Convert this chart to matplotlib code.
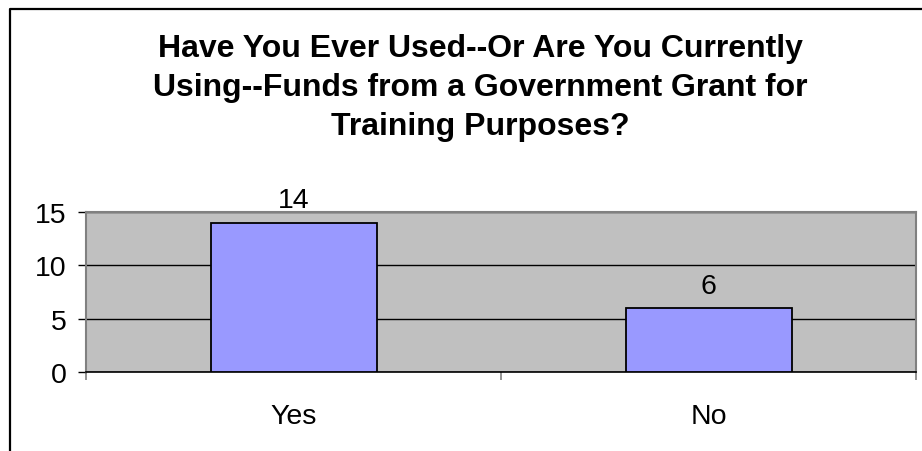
import matplotlib
matplotlib.use("Agg")
import matplotlib.pyplot as plt
from matplotlib.lines import Line2D

plt.rcParams['font.family'] = ['Liberation Sans', 'DejaVu Sans']

answers = ["Yes", "No"]
counts = [14, 6]
y_ticks = [0, 5, 10, 15]
title = ("Have You Ever Used--Or Are You Currently\n"
         "Using--Funds from a Government Grant for\n"
         "Training Purposes?")

fig = plt.figure(figsize=(9.22, 4.52), dpi=100)
ax = fig.add_axes([86 / 922, 1 - 373 / 452, 830 / 922, 160 / 452])
ax.set_facecolor("#C0C0C0")

# frame around the chart area (left and top edges show)
fig.add_artist(Line2D([9.5 / 922, 9.5 / 922, 1], [0, 1 - 9.5 / 452, 1 - 9.5 / 452],
                      transform=fig.transFigure, color="black", lw=1.6))

pos = list(range(len(answers)))
bars = ax.bar(pos, counts, width=0.4, color="#9999FF", edgecolor="black",
              linewidth=1.3, zorder=3)
for b, v in zip(bars, counts):
    ax.annotate(str(v), (b.get_x() + b.get_width() / 2, v),
                xytext=(0, 11), textcoords="offset points",
                ha="center", va="baseline", fontsize=20.5)

ax.set_xlim(-0.5, len(answers) - 0.5)
ax.set_ylim(0, 15)
ax.set_yticks(y_ticks)
ax.yaxis.grid(True, color="black", lw=1.0, zorder=1)
ax.set_axisbelow(True)

ax.set_xticks(pos)
ax.set_xticklabels(answers)
ax.set_xticks([-0.5, 0.5, 1.5], minor=True)
ax.tick_params(axis="x", which="major", length=0, pad=22, labelsize=20.5)
ax.tick_params(axis="x", which="minor", length=6, color="#808080", width=1.2)
ax.tick_params(axis="y", length=6, width=1.0, pad=8, labelsize=20.5)

for side in ["top", "right", "left"]:
    ax.spines[side].set_color("#808080")
    ax.spines[side].set_linewidth(1.5)
ax.spines["bottom"].set_color("black")
ax.spines["bottom"].set_linewidth(1.2)

fig.text(480 / 922, 1 - 88 / 452, title, ha="center", va="center",
         fontsize=23, fontweight="bold", linespacing=1.38)

fig.savefig("out.png", dpi=100)
